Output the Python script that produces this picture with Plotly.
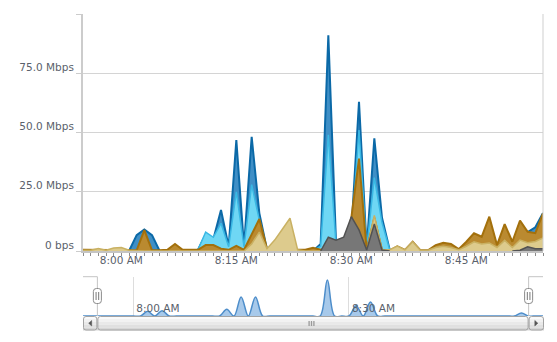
import plotly.graph_objects as go
import pandas as pd

# ---------------- data ----------------
times = pd.date_range("2024-01-01 07:55", "2024-01-01 08:55", freq="1min")

blue = [0, 0, 0, 0, 0, 0,
        0, 6.7, 9.1, 6.7, 0,
        0, 0, 0, 0,
        0.5, 7, 5, 17.3, 1.8, 46.8, 1.8, 48.2, 16, 0.5,
        0, 0, 0, 0, 0, 0,
        3, 91, 4, 3, 8, 63, 1, 47.5, 14, 0.5,
        0, 0, 0, 0, 0, 0, 0, 0, 0,
        2, 5, 4, 10, 1.5, 9, 3, 10, 8, 10, 16]

cyan = [0, 0, 0, 0, 0, 0, 0, 0, 0, 0, 0, 0, 0, 0, 0,
        0.5, 8, 5.8, 11.7, 1.8, 25, 1.8, 28, 13, 0.5,
        0, 0, 0, 0, 0, 0,
        2, 49, 3, 2, 6, 51, 1, 31, 12, 0.5,
        0, 0, 0, 0, 0, 0, 0, 0, 0, 0, 0, 0, 0, 0, 0, 0, 0, 0, 0, 0]

gold = [0.5, 0.5, 0.5, 0.5, 0.5, 0.5,
        0.3, 0.3, 8.8, 0.3, 0.3,
        0.5, 3, 0.5, 0.5, 0.5,
        2.5, 2.5, 1, 0.5, 2.2, 0.5, 7, 13.5, 1,
        0.5, 0.5, 0.5, 0.5, 0.5, 1.4,
        0.5, 0.5, 1, 1, 14, 39, 0.5, 14, 0.5, 0.3,
        2, 0.5, 3.9, 0.3, 0.3, 2.5, 3.5, 3, 0.8,
        3.9, 7.5, 6, 14.5, 2.5, 11.3, 3.9, 12.8, 8.1, 7.5, 15.9]

khaki = [0.3, 0.3, 1, 0.3, 1.3, 1.5,
         0.3, 0, 0, 0, 0,
         0, 0, 0, 0, 0,
         0, 0, 0, 0, 0, 0, 3, 8, 1,
         4.6, 9.2, 13.8, 0.5, 0, 0,
         0, 0, 0, 0, 0, 0, 0, 15, 0.5, 0.5,
         2.1, 0.5, 3.9, 0.3, 0.3, 1.5, 2, 1.5, 0.5,
         2, 3.9, 3, 3.4, 1.5, 4.5, 1.5, 4.6, 3.5, 4, 5.5]

gray = [None] * 31 + [0, 5.8, 4.6, 5.8, 14.5, 8.9, 0.4, 11.4, 0.4, 0] + \
       [None] * 15 + [0, 0.3, 1.8, 1, 1]

nav_times = pd.date_range("2024-01-01 07:53", "2024-01-01 08:57", freq="1min")
nav_vals = [0, 0, 0, 0, 0, 0, 0, 0, 0, 12, 0, 13.5, 0, 0, 0, 0, 0, 0, 0, 0,
            17, 0, 49, 0, 49, 0, 0, 0, 0, 0, 0, 0, 0, 0, 92, 0, 0, 0, 26, 0,
            36, 0, 0, 0, 0, 0, 0, 0, 0, 0, 0, 0, 0, 0, 0, 0, 0, 0, 0, 0,
            0, 7.7, 0, 0, 0]

y_ticks = [0, 25, 50, 75, 100]
y_labels = ["0 bps", "25.0 Mbps", "50.0 Mbps", "75.0 Mbps", ""]

sel_start = "2024-01-01 07:55"
sel_end = "2024-01-01 08:55"

# ---------------- styling ----------------
series = [
    (blue, "#0b69a7", "#3f8fc6", 2.0),
    (cyan, "#3ab8e4", "#6fd7f4", 1.5),
    (gold, "#a3700c", "#ba8a30", 2.0),
    (khaki, "#c9b163", "#ddcb8d", 1.5),
    (gray, "#525252", "#777777", 1.5),
]
FONT = "DejaVu Sans"
TXT = "#5a616b"

fig = go.Figure()
for vals, lc, fc, w in series:
    fig.add_trace(go.Scatter(x=times, y=vals, mode="lines", fill="tozeroy",
                             line=dict(color=lc, width=w), fillcolor=fc,
                             xaxis="x", yaxis="y", hoverinfo="skip"))

fig.add_trace(go.Scatter(x=nav_times, y=nav_vals, mode="lines", fill="tozeroy",
                         line=dict(color="#4d8dca", width=1.5, shape="spline", smoothing=1),
                         fillcolor="#a7c9ea", xaxis="x2", yaxis="y2", hoverinfo="skip"))

# pixel -> paper helpers for decorations (plot area: x 83..543, y 14..316)
L, R, T, B = 83, 543, 14, 316
W, H = R - L, B - T
def px(x):
    return (x - L) / W
def py(y):
    return (B - y) / H

main_bottom = py(251)
nav_top = py(277)

t0 = pd.Timestamp("2024-01-01 07:53")
span = 64.0
def navx_px(ts):
    return L + (pd.Timestamp(ts) - t0).total_seconds() / 60.0 / span * W

hx0 = navx_px(sel_start)
hx1 = navx_px(sel_end)

shapes = []
# right border of main plot
shapes.append(dict(type="line", xref="paper", yref="paper", x0=1, x1=1,
                   y0=main_bottom, y1=1, line=dict(color="#cfcfcf", width=1)))

# navigator mask outlines
for (a, b, edge) in [(L, hx0, hx0), (hx1, R, hx1)]:
    shapes.append(dict(type="line", xref="paper", yref="paper", x0=px(a), x1=px(b),
                       y0=py(276.7), y1=py(276.7), line=dict(color="#c4c4c4", width=1)))
    shapes.append(dict(type="line", xref="paper", yref="paper", x0=px(edge), x1=px(edge),
                       y0=py(276.7), y1=py(316), line=dict(color="#c4c4c4", width=1)))

def rrect(x0, y0, x1, y1, r):
    pts = [
        ("M", x0 + r, y0), ("L", x1 - r, y0), ("Q", x1, y0, x1, y0 + r),
        ("L", x1, y1 - r), ("Q", x1, y1, x1 - r, y1), ("L", x0 + r, y1),
        ("Q", x0, y1, x0, y1 - r), ("L", x0, y0 + r), ("Q", x0, y0, x0 + r, y0),
    ]
    s = ""
    for p in pts:
        if p[0] == "Q":
            s += "Q%.5f,%.5f %.5f,%.5f " % (px(p[1]), py(p[2]), px(p[3]), py(p[4]))
        else:
            s += "%s%.5f,%.5f " % (p[0], px(p[1]), py(p[2]))
    return s + "Z"

# scrollbar (gradient strips)
SB0, SB1 = 316, 330.5
strips = ["#fafafa", "#f2f2f2", "#e9e9e9", "#e0e0e0", "#d6d6d6"]
n = len(strips)
for i, c in enumerate(strips):
    ya = SB0 + (SB1 - SB0) * i / n
    yb = SB0 + (SB1 - SB0) * (i + 1) / n
    shapes.append(dict(type="rect", xref="paper", yref="paper", x0=px(L), x1=px(R + 1),
                       y0=py(yb), y1=py(ya), line=dict(width=0), fillcolor=c, layer="above"))
# borders of buttons & thumb
for a, b in [(L, hx0), (hx0, hx1), (hx1, R + 1)]:
    shapes.append(dict(type="path", xref="paper", yref="paper",
                       path=rrect(a + 0.5, SB0 + 0.5, b - 0.5, SB1 - 0.5, 2.5),
                       line=dict(color="#a3a3a3", width=1), fillcolor="rgba(0,0,0,0)",
                       layer="above"))
# arrows
ac = (L + hx0) / 2
shapes.append(dict(type="path", xref="paper", yref="paper",
                   path="M%.5f,%.5f L%.5f,%.5f L%.5f,%.5f Z" % (
                       px(ac - 1.5), py(323.2), px(ac + 1.5), py(320.5), px(ac + 1.5), py(326)),
                   line=dict(color="#555", width=0.5), fillcolor="#555", layer="above"))
ac2 = (hx1 + R + 1) / 2
shapes.append(dict(type="path", xref="paper", yref="paper",
                   path="M%.5f,%.5f L%.5f,%.5f L%.5f,%.5f Z" % (
                       px(ac2 + 1.5), py(323.2), px(ac2 - 1.5), py(320.5), px(ac2 - 1.5), py(326)),
                   line=dict(color="#555", width=0.5), fillcolor="#555", layer="above"))
# grip
gc = (hx0 + hx1) / 2 - 1.5
for dx in (-2.4, 0, 2.4):
    shapes.append(dict(type="line", xref="paper", yref="paper", x0=px(gc + dx), x1=px(gc + dx),
                       y0=py(321), y1=py(326), line=dict(color="#9a9a9a", width=1.3),
                       layer="above"))

# navigator handles
for hx in (hx0, hx1):
    shapes.append(dict(type="path", xref="paper", yref="paper",
                       path=rrect(hx - 4, 288.5, hx + 4, 303.5, 3),
                       line=dict(color="#8a8a8a", width=1), fillcolor="#ffffff", layer="above"))
    for dx in (-1.3, 1.3):
        shapes.append(dict(type="line", xref="paper", yref="paper", x0=px(hx + dx), x1=px(hx + dx),
                           y0=py(292), y1=py(300), line=dict(color="#777", width=1),
                           layer="above"))

fig.update_layout(
    width=557, height=342,
    margin=dict(l=L, r=557 - R, t=T, b=342 - B),
    paper_bgcolor="white", plot_bgcolor="white",
    showlegend=False,
    font=dict(family=FONT, size=10.5, color=TXT),
    shapes=shapes,
    xaxis=dict(domain=[0, 1], anchor="y", type="date",
               range=[times[0], times[-1]],
               tickformat="%-I:%M %p", dtick=900000, tick0="2024-01-01 08:00",
               ticks="outside", ticklen=3, tickcolor="#8a8a8a",
               ticklabelstandoff=-5,
               showline=True, linecolor="#c4c4c4", linewidth=2,
               showgrid=False, zeroline=False,
               minor=dict(dtick=60000, ticks="outside", ticklen=3, tickcolor="#8a8a8a",
                          showgrid=False),
               tickfont=dict(family=FONT, size=10.5, color=TXT)),
    yaxis=dict(domain=[main_bottom, 1], anchor="x", range=[0, 100],
               tickvals=y_ticks, ticktext=y_labels,
               ticks="outside", ticklen=5, tickcolor="#cccccc",
               showline=True, linecolor="#cccccc", linewidth=2,
               showgrid=True, gridcolor="#d4d4d4", gridwidth=1, zeroline=False,
               ticklabelshift=-6,
               tickfont=dict(family=FONT, size=10.5, color=TXT)),
    xaxis2=dict(domain=[0, 1], anchor="y2", type="date",
                range=[nav_times[0], nav_times[-1]],
                tickformat="%-I:%M %p", dtick=1800000, tick0="2024-01-01 08:00",
                ticks="", ticklabelposition="inside right",
                ticklabelshift=3, ticklabelstandoff=-4,
                showline=False, showgrid=True, gridcolor="#dddddd", zeroline=False,
                tickfont=dict(family=FONT, size=10.5, color=TXT)),
    yaxis2=dict(domain=[0, nav_top], anchor="x2", range=[0, 100],
                showticklabels=False, showgrid=False, zeroline=False, showline=False,
                ticks=""),
)

fig.write_html("out.html", config={"displayModeBar": False})
